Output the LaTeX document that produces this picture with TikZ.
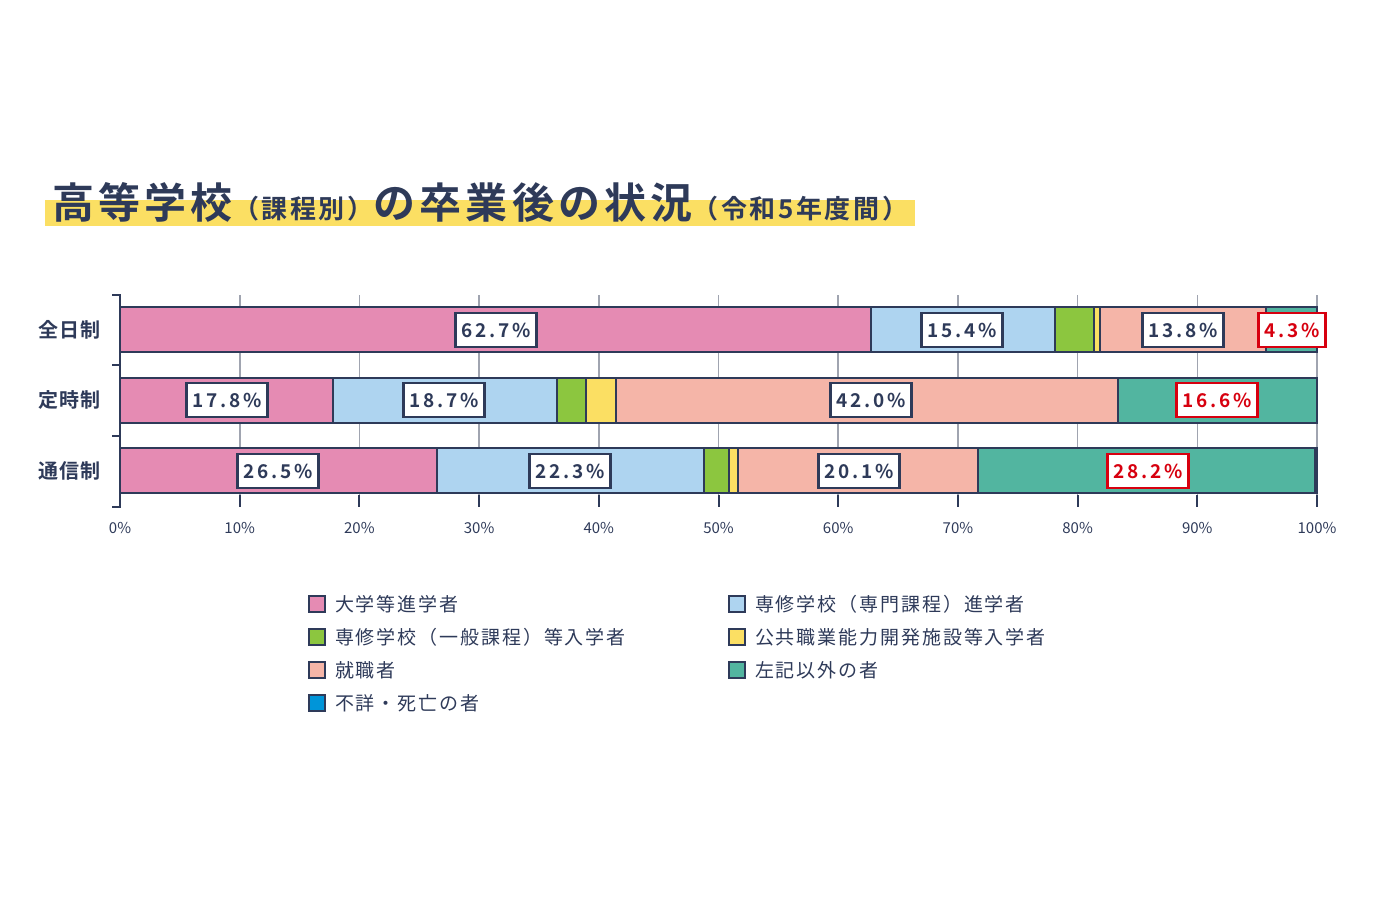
\documentclass[tikz,border=0pt]{standalone}
\usepackage{fontspec}
\setmainfont{Noto Sans CJK JP}
\newfontfamily\jpt[LetterSpace=10,BoldFont={Noto Sans CJK JP Bold}]{Noto Sans CJK JP}
\newfontfamily\jpl[LetterSpace=14,BoldFont={Noto Sans CJK JP Bold}]{Noto Sans CJK JP}
\newfontfamily\jpc[LetterSpace=6,BoldFont={Noto Sans CJK JP Bold}]{Noto Sans CJK JP}
\newfontfamily\jpg[LetterSpace=10]{Noto Sans CJK JP}
\definecolor{nav}{HTML}{2E3A59}
\definecolor{cpk}{HTML}{E58BB3}
\definecolor{cbl}{HTML}{AED4F0}
\definecolor{cgr}{HTML}{8CC63F}
\definecolor{cye}{HTML}{FBDF63}
\definecolor{csa}{HTML}{F5B5A8}
\definecolor{cte}{HTML}{52B5A0}
\definecolor{cdb}{HTML}{0095D9}
\definecolor{cgrid}{HTML}{A0A4B0}
\definecolor{cred}{HTML}{D7000F}
\begin{document}
\begin{tikzpicture}[x=0.5pt,y=-0.5pt,
 seg/.style={draw=nav,line width=1pt},
 lab/.style={draw=nav,fill=white,line width=1.3pt,font=\jpl\bfseries\fontsize{9.5}{10}\selectfont,text=nav,inner sep=3pt,minimum height=17pt},
 rlab/.style={lab,draw=cred,text=cred},
 cat/.style={font=\jpc\bfseries\fontsize{10}{10}\selectfont,text=nav,anchor=east},
 tick/.style={font=\fontsize{7.5}{8}\selectfont,text=nav},
 leg/.style={font=\jpg\fontsize{9.5}{10}\selectfont,text=nav,anchor=west},
 sw/.style={draw=nav,line width=0.8pt,minimum size=8pt,inner sep=0pt}]
\useasboundingbox (0,0) rectangle (1380,920);
\fill[cye] (45,200) rectangle (915,226);
\node[anchor=base west,text=nav,inner sep=0] (title) at (52,218) {\jpt\bfseries\fontsize{21}{21}\selectfont 高等学校{\fontsize{13}{12}\selectfont（課程別）}の卒業後の状況{\fontsize{13}{12}\selectfont（令和5年度間）}};
\foreach \p in {10,20,...,100}{
 \draw[cgrid,line width=0.8pt] ({120+11.97*\p},295) -- ({120+11.97*\p},495);
 \draw[nav,line width=1pt] ({120+11.97*\p},495) -- ({120+11.97*\p},507);
 \node[tick] at ({120+11.97*\p},528) {\p\%};
}
\node[tick] at (120,528) {0\%};
\def\bar#1#2#3#4{\draw[seg,fill=#1] ({120+11.97*#3},#2) rectangle ({120+11.97*#4},{#2+45});}
\bar{cpk}{307}{0}{62.7}\bar{cbl}{307}{62.7}{78.1}\bar{cgr}{307}{78.1}{81.4}\bar{cye}{307}{81.4}{81.9}\bar{csa}{307}{81.9}{95.7}\bar{cte}{307}{95.7}{100}
\bar{cpk}{378}{0}{17.8}\bar{cbl}{378}{17.8}{36.5}\bar{cgr}{378}{36.5}{38.9}\bar{cye}{378}{38.9}{41.4}\bar{csa}{378}{41.4}{83.4}\bar{cte}{378}{83.4}{100}
\bar{cpk}{448}{0}{26.5}\bar{cbl}{448}{26.5}{48.8}\bar{cgr}{448}{48.8}{50.9}\bar{cye}{448}{50.9}{51.6}\bar{csa}{448}{51.6}{71.7}\bar{cte}{448}{71.7}{99.8}\bar{cdb}{448}{99.8}{100}
\draw[nav,line width=1.2pt] (112,295) -- (120,295) -- (120,507) -- (112,507);
\draw[nav,line width=1.2pt] (112,365) -- (120,365) (112,436) -- (120,436);
\node[cat] (r1) at (108,330) {全日制};
\node[cat] (r2) at (108,400) {定時制};
\node[cat] (r3) at (108,471) {通信制};
\node[lab] (a1) at (496,330) {62.7\%};
\node[lab] (a2) at (962,330) {15.4\%};
\node[lab] (a3) at (1183,330) {13.8\%};
\node[rlab] (a4) at (1292,330) {4.3\%};
\node[lab] (b1) at (227,400) {17.8\%};
\node[lab] (b2) at (444,400) {18.7\%};
\node[lab] (b3) at (871,400) {42.0\%};
\node[rlab] (b4) at (1217,400) {16.6\%};
\node[lab] (c1) at (278,471) {26.5\%};
\node[lab] (c2) at (570,471) {22.3\%};
\node[lab] (c3) at (859,471) {20.1\%};
\node[rlab] (c4) at (1148,471) {28.2\%};
\node[sw,fill=cpk] (s1) at (317,604) {}; \node[leg] at (328,604) {大学等進学者};
\node[sw,fill=cbl] (s2) at (737,604) {}; \node[leg] at (748,604) {専修学校（専門課程）進学者};
\node[sw,fill=cgr] (s3) at (317,637) {}; \node[leg] at (328,637) {専修学校（一般課程）等入学者};
\node[sw,fill=cye] (s4) at (737,637) {}; \node[leg] at (748,637) {公共職業能力開発施設等入学者};
\node[sw,fill=csa] (s5) at (317,670) {}; \node[leg] at (328,670) {就職者};
\node[sw,fill=cte] (s6) at (737,670) {}; \node[leg] at (748,670) {左記以外の者};
\node[sw,fill=cdb] (s7) at (317,703) {}; \node[leg] at (328,703) {不詳・死亡の者};
\end{tikzpicture}
\end{document}
